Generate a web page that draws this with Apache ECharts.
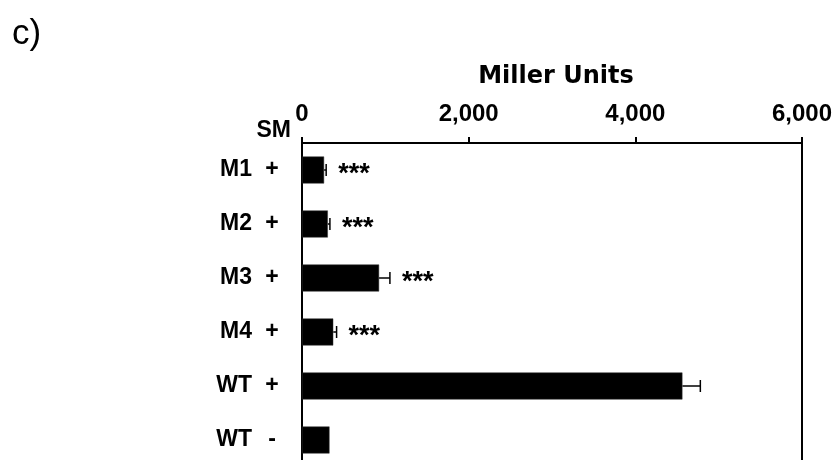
<!DOCTYPE html>
<html>
<head>
<meta charset="utf-8">
<script src="https://cdn.jsdelivr.net/npm/echarts@6/dist/echarts.min.js"></script>
<style>
html,body{margin:0;padding:0;background:#fff;}
#chart{width:832px;height:460px;}
</style>
</head>
<body>
<div id="chart"></div>
<script>
// ---- data ----
var strains = ['M1', 'M2', 'M3', 'M4', 'WT', 'WT'];
var sm = ['+', '+', '+', '+', '+', '-'];
var values = [265, 310, 925, 375, 4565, 330];
var errors = [25, 25, 130, 40, 215, 0];
var stars = ['***', '***', '***', '***', '', ''];
var xTicks = [0, 2000, 4000, 6000];
var xTickLabels = ['0', '2,000', '4,000', '6,000'];
var axisTitle = 'Miller Units';
var panelLabel = 'c)';
var smLabel = 'SM';

var categories = strains.map(function (s, i) { return s + ' ' + sm[i]; });
var FONT = '"Liberation Sans", Arial, Helvetica, sans-serif';

var chart = echarts.init(document.getElementById('chart'), null, {renderer: 'canvas'});

var errData = values.map(function (v, i) { return [v, i, errors[i], i]; });

chart.setOption({
  animation: false,
  backgroundColor: '#fff',
  grid: {left: 302, top: 143, width: 500, height: 324, outerBoundsMode: 'none', containLabel: false},
  xAxis: {
    type: 'value', position: 'top',
    min: xTicks[0], max: xTicks[xTicks.length - 1], interval: xTicks[1] - xTicks[0],
    axisLine: {show: true, lineStyle: {color: '#000', width: 2}},
    axisTick: {show: true, length: 6, lineStyle: {color: '#000', width: 2}},
    splitLine: {show: false},
    axisLabel: {
      margin: 17, color: '#000', fontFamily: FONT, fontWeight: 'bold', fontSize: 24,
      formatter: function (v) { var k = xTicks.indexOf(v); return k >= 0 ? xTickLabels[k] : ''; }
    }
  },
  yAxis: [{
    type: 'category', data: categories, inverse: true, position: 'left',
    axisLine: {show: true, lineStyle: {color: '#000', width: 2}},
    axisTick: {show: false},
    axisLabel: {
      margin: 20, color: '#000', fontFamily: FONT, fontWeight: 'bold', fontSize: 23,
      formatter: function (v, i) { return '{a|' + strains[i] + '}{b|' + sm[i] + '}'; },
      rich: {
        a: {fontFamily: FONT, fontWeight: 'bold', fontSize: 23, color: '#000', align: 'right', padding: [0, 10, 0, 0]},
        b: {fontFamily: FONT, fontWeight: 'bold', fontSize: 23, color: '#000', width: 20, align: 'center'}
      }
    }
  }, {
    type: 'category', data: categories, inverse: true, position: 'right',
    axisLine: {show: true, lineStyle: {color: '#000', width: 2}},
    axisTick: {show: false}, axisLabel: {show: false}
  }],
  series: [{
    type: 'bar', data: values, barWidth: 27, yAxisIndex: 0,
    itemStyle: {color: '#000', borderColor: '#333', borderWidth: 0.5}
  }, {
    type: 'custom', yAxisIndex: 0, data: errData,
    encode: {x: 0, y: 1},
    renderItem: function (params, api) {
      var v = api.value(0), c = api.value(1), e = api.value(2), idx = api.value(3);
      var p0 = api.coord([v, c]);
      var p1 = api.coord([v + e, c]);
      var children = [];
      if (e > 0) {
        children.push({type: 'line', shape: {x1: p0[0], y1: p0[1], x2: p1[0], y2: p1[1]}, style: {stroke: '#000', lineWidth: 1.5}});
        children.push({type: 'line', shape: {x1: p1[0], y1: p1[1] - 6, x2: p1[0], y2: p1[1] + 6}, style: {stroke: '#000', lineWidth: 1.5}});
      }
      if (stars[idx]) {
        children.push({type: 'text', x: p1[0] + 12, y: p1[1] + 5,
          style: {text: stars[idx], fill: '#000', font: 'bold 27px ' + FONT, align: 'left', verticalAlign: 'middle'}});
      }
      return {type: 'group', children: children};
    },
    z: 3
  }],
  graphic: [
    {type: 'text', left: 12, top: 17, style: {text: panelLabel, fill: '#000', font: '35px ' + FONT}},
    {type: 'text', x: 556, y: 77, style: {text: axisTitle, fill: '#000', font: 'bold 24px "DejaVu Sans", sans-serif', align: 'center', verticalAlign: 'middle'}},
    {type: 'text', x: 291, y: 131, style: {text: smLabel, fill: '#000', font: 'bold 23px ' + FONT, align: 'right', verticalAlign: 'middle'}}
  ]
});
</script>
</body>
</html>
